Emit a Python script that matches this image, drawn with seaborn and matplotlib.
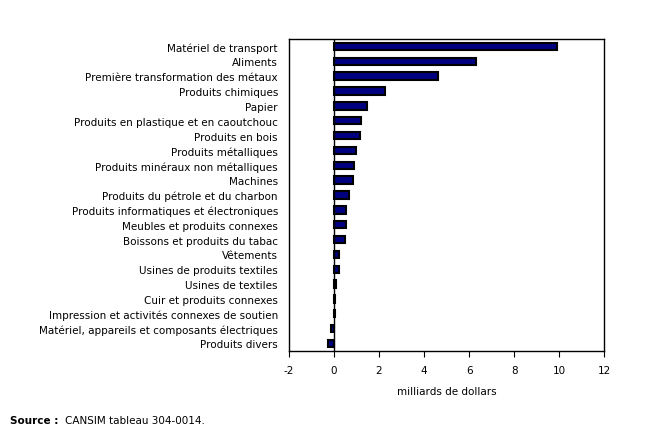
import pandas as pd
import seaborn as sns
import matplotlib.pyplot as plt

sns.set_style("white")
plt.rcParams['font.family'] = ['DejaVu Sans']
plt.rcParams['axes.unicode_minus'] = False
plt.rcParams['text.color'] = 'black'
plt.rcParams['xtick.color'] = 'black'
plt.rcParams['ytick.color'] = 'black'
plt.rcParams['axes.labelcolor'] = 'black'

# industries and change in billions of dollars
industries = ['Matériel de transport', 'Aliments', 'Première transformation des métaux',
              'Produits chimiques', 'Papier', 'Produits en plastique et en caoutchouc',
              'Produits en bois', 'Produits métalliques', 'Produits minéraux non métalliques',
              'Machines', 'Produits du pétrole et du charbon',
              'Produits informatiques et électroniques', 'Meubles et produits connexes',
              'Boissons et produits du tabac', 'Vêtements', 'Usines de produits textiles',
              'Usines de textiles', 'Cuir et produits connexes',
              'Impression et activités connexes de soutien',
              'Matériel, appareils et composants électriques', 'Produits divers']
values = [9.9, 6.3, 4.6, 2.25, 1.45, 1.18, 1.17, 0.96, 0.87, 0.83, 0.68,
          0.52, 0.51, 0.47, 0.24, 0.2, 0.1, 0.04, 0.03, -0.13, -0.25]
xticks = [-2, 0, 2, 4, 6, 8, 10, 12]

df = pd.DataFrame({'industrie': industries, 'valeur': values})

fig = plt.figure(figsize=(6.69, 4.35), dpi=100)
ax = fig.add_axes([0.432, 0.191, 0.471, 0.717])
sns.barplot(data=df, y='industrie', x='valeur', orient='h', color='#000080',
            saturation=1, width=0.5, edgecolor='black', linewidth=1.5, ax=ax)
ax.axvline(0, color='black', lw=1)
ax.set_xlim(-2, 12)
ax.set_ylim(20.5, -0.5)
ax.set_xticks(xticks)
ax.tick_params(axis='x', length=4, width=0.8, labelsize=7.5, pad=6, direction='out', bottom=True)
ax.tick_params(axis='y', length=0, labelsize=7.5, pad=8)
for s in ax.spines.values():
    s.set_color('black')
    s.set_linewidth(1)
ax.set_ylabel('')
ax.set_xlabel('milliards de dollars', fontsize=7.5, labelpad=8)

fig.text(0.015, 0.026, 'Source :', fontsize=7.5, fontweight='bold')
fig.text(0.097, 0.026, 'CANSIM tableau 304-0014.', fontsize=7.5)

fig.savefig('out.png', dpi=100)
